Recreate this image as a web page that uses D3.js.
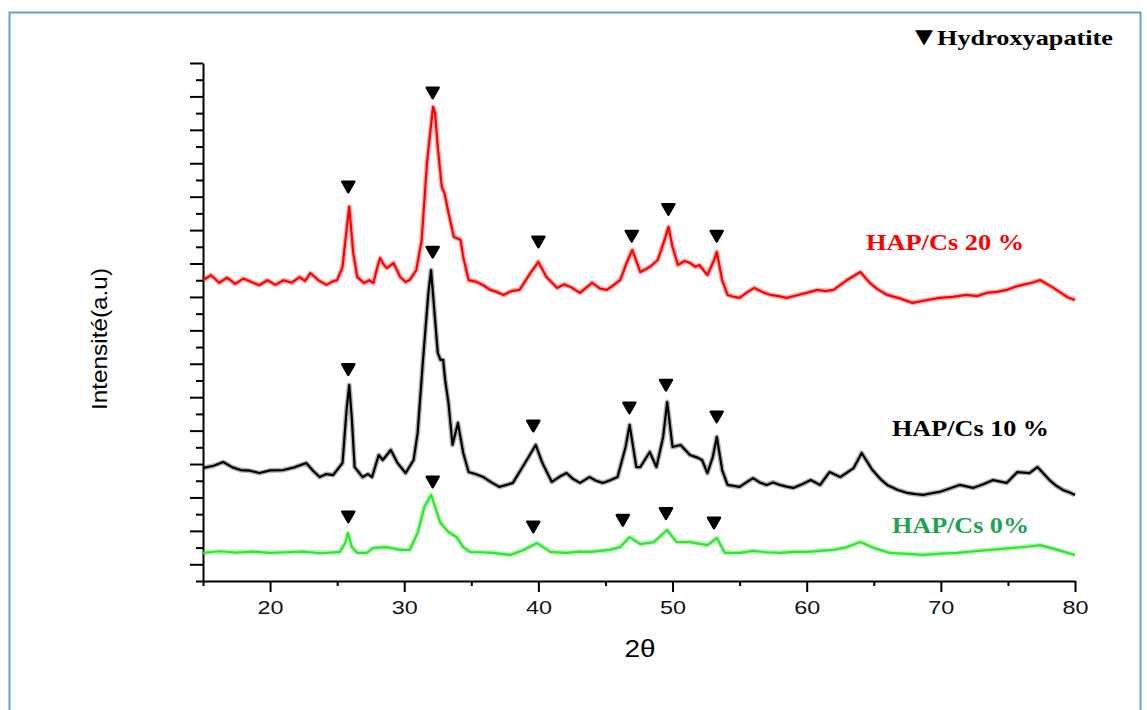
<!DOCTYPE html>
<html><head><meta charset="utf-8">
<script src="https://cdn.jsdelivr.net/npm/d3@7"></script>
<style>body{margin:0;background:#fff}</style>
</head><body>
<svg id="c" width="1147" height="710"></svg>
<script>
// 2θ (deg), intensity (a.u.)
const hap20 = [[15,1801],[15.6,1830],[16.2,1785],[16.8,1815],[17.4,1778],[18,1810],[18.6,1790],[19.2,1770],[19.8,1800],[20.4,1772],[21,1800],[21.6,1785],[22.2,1819],[22.6,1795],[23,1843],[23.6,1800],[24.2,1772],[24.6,1790],[25,1801],[25.4,1879],[25.7,2100],[25.9,2240],[26.2,1963],[26.5,1819],[27,1784],[27.4,1800],[27.7,1784],[28,1879],[28.2,1933],[28.5,1890],[28.7,1873],[29.2,1903],[29.7,1819],[30.1,1790],[30.4,1801],[30.9,1861],[31.3,2041],[31.7,2502],[31.9,2657],[32.15,2837],[32.3,2801],[32.5,2597],[32.8,2358],[33,2322],[33.3,2202],[33.7,2059],[33.9,2053],[34.2,2041],[34.4,1939],[34.8,1801],[35.4,1790],[35.9,1770],[36.4,1742],[36.9,1730],[37.4,1712],[38,1735],[38.6,1742],[39.4,1843],[40,1909],[40.6,1819],[41.4,1754],[41.9,1775],[42.4,1760],[43.1,1724],[44,1784],[44.6,1750],[45.1,1742],[45.6,1770],[46.1,1801],[46.6,1909],[47,1981],[47.6,1849],[48.3,1879],[48.9,1921],[49.4,2041],[49.7,2119],[50,1999],[50.4,1891],[50.9,1915],[51.3,1903],[51.7,1880],[52,1891],[52.6,1831],[53.1,1921],[53.3,1969],[53.7,1801],[54.1,1712],[54.6,1700],[55,1694],[55.6,1730],[56.1,1754],[56.7,1730],[57.3,1712],[57.9,1705],[58.5,1694],[59.3,1710],[60,1724],[60.8,1742],[61.4,1735],[62,1742],[63,1801],[64,1849],[64.7,1784],[65.3,1745],[66,1712],[67,1690],[67.9,1664],[68.9,1680],[69.9,1694],[70.9,1700],[71.9,1712],[72.7,1705],[73.4,1724],[74.2,1730],[74.9,1742],[75.5,1760],[76.1,1772],[76.8,1785],[77.4,1801],[78.4,1754],[79.4,1700],[80,1682]];
const hap10 = [[15,676],[15.8,690],[16.5,712],[17.2,680],[17.8,664],[18.5,660],[19.2,646],[20,662],[21,664],[21.8,680],[22.7,706],[23.2,660],[23.7,622],[24.2,640],[24.7,634],[25.4,706],[25.7,1023],[25.9,1173],[26.1,964],[26.3,682],[26.9,622],[27.3,640],[27.6,622],[28.1,754],[28.4,724],[29,784],[29.5,706],[30.1,646],[30.7,724],[31,886],[31.4,1323],[31.8,1724],[32,1861],[32.3,1562],[32.5,1365],[32.7,1323],[32.9,1323],[33.05,1203],[33.3,1065],[33.6,814],[34,946],[34.4,766],[34.8,652],[35.3,640],[35.9,622],[36.5,590],[37.1,563],[38.1,587],[39,706],[39.8,814],[40.3,706],[41,593],[41.6,625],[42.1,646],[42.6,610],[43.1,587],[43.8,622],[44.3,600],[44.8,587],[45.4,605],[45.9,622],[46.5,802],[46.8,934],[47.3,682],[47.6,682],[48.3,772],[48.8,682],[49.3,862],[49.6,1071],[50,802],[50.6,814],[51.3,754],[51.8,740],[52.2,724],[52.6,646],[53,742],[53.3,862],[53.7,664],[54.1,575],[55,563],[55.5,590],[56,616],[56.5,590],[57,575],[57.5,590],[58,575],[58.5,565],[59,557],[59.7,580],[60.3,604],[61,575],[61.7,652],[62.5,622],[63.5,676],[64.1,766],[64.9,664],[65.5,610],[66,575],[66.8,545],[67.5,527],[68.1,520],[68.7,515],[69.3,525],[69.9,533],[70.7,555],[71.4,575],[72.4,557],[73.2,580],[73.9,604],[74.9,587],[75.7,652],[76.6,646],[77.2,682],[78.1,604],[78.6,570],[79.1,545],[79.6,530],[80,515]];
const hap0 = [[15,168],[16.2,178],[17.5,170],[18.7,176],[20,168],[21.2,172],[22.5,176],[23.8,166],[25.2,174],[25.6,227],[25.8,287],[26.1,203],[26.5,168],[27.2,168],[27.7,198],[28.7,203],[29.7,186],[30.4,186],[31,287],[31.5,443],[32,515],[32.3,443],[32.7,347],[33.3,293],[33.9,263],[34.4,203],[34.9,174],[35.8,172],[36.6,168],[37.9,156],[38.9,186],[39.9,227],[40.9,174],[42.1,168],[43,176],[43.8,174],[44.6,180],[45.3,186],[46.1,203],[46.8,263],[47.6,221],[48.6,233],[49.6,305],[50.3,233],[51.3,233],[52.6,215],[53.3,257],[53.9,168],[55,168],[56,180],[57,172],[58,168],[59,174],[60,174],[61,180],[62,186],[63,203],[64,233],[65,198],[66.2,168],[67.5,162],[68.7,156],[70,164],[71.2,168],[72.5,178],[73.7,186],[75.4,198],[76.4,205],[77.4,215],[78.7,186],[80,156]];

// ▼ hydroxyapatite markers [2θ, intensity]
const marks20 = [[25.83,2360],[32.12,2922],[40.0,2031],[46.96,2065],[49.69,2225],[53.29,2065]];
const marks10 = [[25.83,1267],[32.12,1969],[39.62,929],[46.78,1037],[49.51,1173],[53.29,983]];
const marks0  = [[25.83,385],[32.12,594],[39.62,325],[46.29,365],[49.51,405],[53.09,349]];

const seriesNames = ["HAP/Cs 20 %","HAP/Cs 10 %","HAP/Cs 0%"];
const lineColors = ["#ff0000","#000000","#2ee62e"];
const labelColors = ["#ff0000","#000000","#1fa352"];
const xTickValues = [15,20,25,30,35,40,45,50,55,60,65,70,75,80];
const yTickValues = d3.range(0, 3101, 100);
const xTitle = "2θ";
const yTitle = "Intensité(a.u)";
const legendText = "Hydroxyapatite";

const svg = d3.select("#c");
svg.append("rect").attr("x",9.5).attr("y",12.5).attr("width",1131).attr("height",720)
  .attr("fill","none").attr("stroke","#6f9bd8").attr("stroke-width",2);

const x = d3.scaleLinear().domain([15,80]).range([203,1075]);
const y = d3.scaleLinear().domain([0,3100]).range([581,63]);

// axes
const xa = svg.append("g").attr("transform","translate(0,581)")
  .call(d3.axisBottom(x).tickValues(xTickValues).tickSizeOuter(0)
    .tickFormat(d => d % 10 === 0 && d !== 15 ? d : ""));
xa.select(".domain").attr("stroke-width",2).attr("stroke","#000");
xa.selectAll(".tick line").attr("stroke-width",2).attr("y2", d => d % 10 === 0 ? 11 : 5);
xa.selectAll(".tick text").attr("y",20).attr("dy","0.71em")
  .attr("font-family","'Liberation Sans', Arial, sans-serif").attr("font-size",19).attr("fill","#111")
  .attr("textLength",26).attr("lengthAdjust","spacingAndGlyphs");

const ya = svg.append("g").attr("transform","translate(203,0)")
  .call(d3.axisLeft(y).tickValues(yTickValues).tickSizeOuter(0).tickFormat(""));
ya.select(".domain").attr("stroke-width",2).attr("stroke","#000");
ya.selectAll(".tick line").attr("stroke-width",2).attr("x2", d => (d/100) % 2 === 1 ? -13 : -7);

svg.append("text").attr("x",640).attr("y",657).attr("text-anchor","middle")
  .attr("font-family","'Liberation Sans', Arial, sans-serif").attr("font-size",24)
  .attr("textLength",31).attr("lengthAdjust","spacingAndGlyphs").text(xTitle);
svg.append("text").attr("transform","translate(107,339) rotate(-90)").attr("text-anchor","middle")
  .attr("font-family","'Liberation Sans', Arial, sans-serif").attr("font-size",22)
  .attr("textLength",142).attr("lengthAdjust","spacingAndGlyphs").text(yTitle);

// curves: a soft wide stroke under a sharp one, to mimic the noisy trace
const line = d3.line().x(d => x(d[0])).y(d => y(d[1]));
[hap0, hap10, hap20].forEach((s, i) => {
  const g = svg.append("g");
  g.append("path").datum(s).attr("d", line).attr("fill","none")
    .attr("stroke", lineColors[2-i]).attr("stroke-width",5).attr("stroke-opacity",0.3)
    .attr("stroke-linejoin","round");
  g.append("path").datum(s).attr("d", line).attr("fill","none")
    .attr("stroke", lineColors[2-i]).attr("stroke-width",2.2).attr("stroke-linejoin","round");
});

// markers
const tri = "M-6,-5L6,-5L0,5.5Z";
[marks20, marks10, marks0].forEach(m => {
  svg.append("g").selectAll("path").data(m).join("path")
    .attr("transform", d => `translate(${x(d[0])},${y(d[1])})`)
    .attr("d", tri).attr("fill","#000").attr("stroke","#000").attr("stroke-width",2.5)
    .attr("stroke-linejoin","round");
});

// series labels
const labelPos = [[866,250,158],[892,436,157],[892,533,137]];
seriesNames.forEach((n,i) => {
  svg.append("text").attr("x",labelPos[i][0]).attr("y",labelPos[i][1])
    .attr("font-family","'Liberation Serif','Times New Roman',serif").attr("font-weight","bold")
    .attr("font-size",24).attr("fill",labelColors[i])
    .attr("textLength",labelPos[i][2]).attr("lengthAdjust","spacingAndGlyphs").text(n);
});

// legend
svg.append("text").attr("x",915).attr("y",43).attr("font-family","'DejaVu Sans',sans-serif")
  .attr("font-size",20).attr("textLength",18).attr("lengthAdjust","spacingAndGlyphs").text("▼");
svg.append("text").attr("x",937).attr("y",45)
  .attr("font-family","'Liberation Serif','Times New Roman',serif").attr("font-weight","bold")
  .attr("font-size",22).attr("textLength",176).attr("lengthAdjust","spacingAndGlyphs").text(legendText);
</script>
</body></html>
